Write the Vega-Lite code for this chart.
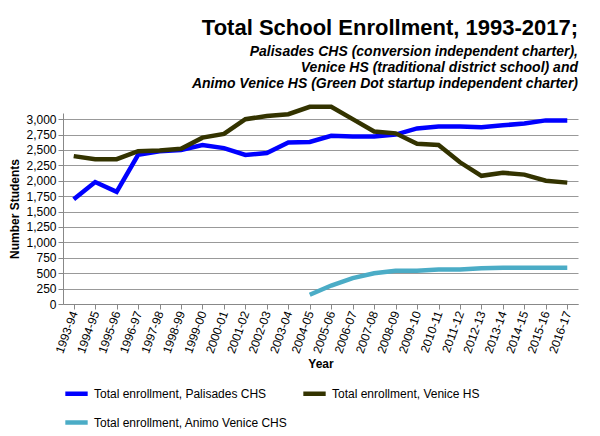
{
  "$schema": "https://vega.github.io/schema/vega-lite/v6.json",
  "width": 600,
  "height": 436,
  "autosize": {"type": "fit", "contains": "padding"},
  "padding": {"left": 8, "right": 22, "top": 8, "bottom": 4},
  "config": {"font": "Liberation Sans", "view": {"stroke": null}},
  "title": {
    "text": "Total School Enrollment, 1993-2017;",
    "subtitle": ["Palisades CHS (conversion independent charter),", "Venice HS (traditional district school) and", "Animo Venice HS (Green Dot startup independent charter)"],
    "anchor": "end",
    "fontSize": 22,
    "fontWeight": "bold",
    "color": "#000",
    "subtitleFontSize": 14,
    "subtitleFontStyle": "italic",
    "subtitleFontWeight": "bold",
    "subtitleColor": "#000",
    "subtitlePadding": 5,
    "offset": 6
  },
  "data": {
    "values": [
      {"year": "1993-94", "s": "Total enrollment, Palisades CHS", "v": 1700},
      {"year": "1994-95", "s": "Total enrollment, Palisades CHS", "v": 1980},
      {"year": "1995-96", "s": "Total enrollment, Palisades CHS", "v": 1820},
      {"year": "1996-97", "s": "Total enrollment, Palisades CHS", "v": 2420},
      {"year": "1997-98", "s": "Total enrollment, Palisades CHS", "v": 2480},
      {"year": "1998-99", "s": "Total enrollment, Palisades CHS", "v": 2500},
      {"year": "1999-00", "s": "Total enrollment, Palisades CHS", "v": 2580},
      {"year": "2000-01", "s": "Total enrollment, Palisades CHS", "v": 2530},
      {"year": "2001-02", "s": "Total enrollment, Palisades CHS", "v": 2420},
      {"year": "2002-03", "s": "Total enrollment, Palisades CHS", "v": 2450},
      {"year": "2003-04", "s": "Total enrollment, Palisades CHS", "v": 2620},
      {"year": "2004-05", "s": "Total enrollment, Palisades CHS", "v": 2630},
      {"year": "2005-06", "s": "Total enrollment, Palisades CHS", "v": 2730},
      {"year": "2006-07", "s": "Total enrollment, Palisades CHS", "v": 2720},
      {"year": "2007-08", "s": "Total enrollment, Palisades CHS", "v": 2720},
      {"year": "2008-09", "s": "Total enrollment, Palisades CHS", "v": 2750},
      {"year": "2009-10", "s": "Total enrollment, Palisades CHS", "v": 2850},
      {"year": "2010-11", "s": "Total enrollment, Palisades CHS", "v": 2880},
      {"year": "2011-12", "s": "Total enrollment, Palisades CHS", "v": 2880},
      {"year": "2012-13", "s": "Total enrollment, Palisades CHS", "v": 2870},
      {"year": "2013-14", "s": "Total enrollment, Palisades CHS", "v": 2900},
      {"year": "2014-15", "s": "Total enrollment, Palisades CHS", "v": 2930},
      {"year": "2015-16", "s": "Total enrollment, Palisades CHS", "v": 2980},
      {"year": "2016-17", "s": "Total enrollment, Palisades CHS", "v": 2980},
      {"year": "1993-94", "s": "Total enrollment, Venice HS", "v": 2400},
      {"year": "1994-95", "s": "Total enrollment, Venice HS", "v": 2350},
      {"year": "1995-96", "s": "Total enrollment, Venice HS", "v": 2350},
      {"year": "1996-97", "s": "Total enrollment, Venice HS", "v": 2480},
      {"year": "1997-98", "s": "Total enrollment, Venice HS", "v": 2490},
      {"year": "1998-99", "s": "Total enrollment, Venice HS", "v": 2520},
      {"year": "1999-00", "s": "Total enrollment, Venice HS", "v": 2700},
      {"year": "2000-01", "s": "Total enrollment, Venice HS", "v": 2760},
      {"year": "2001-02", "s": "Total enrollment, Venice HS", "v": 3000},
      {"year": "2002-03", "s": "Total enrollment, Venice HS", "v": 3050},
      {"year": "2003-04", "s": "Total enrollment, Venice HS", "v": 3080},
      {"year": "2004-05", "s": "Total enrollment, Venice HS", "v": 3200},
      {"year": "2005-06", "s": "Total enrollment, Venice HS", "v": 3200},
      {"year": "2006-07", "s": "Total enrollment, Venice HS", "v": 3000},
      {"year": "2007-08", "s": "Total enrollment, Venice HS", "v": 2800},
      {"year": "2008-09", "s": "Total enrollment, Venice HS", "v": 2770},
      {"year": "2009-10", "s": "Total enrollment, Venice HS", "v": 2600},
      {"year": "2010-11", "s": "Total enrollment, Venice HS", "v": 2580},
      {"year": "2011-12", "s": "Total enrollment, Venice HS", "v": 2300},
      {"year": "2012-13", "s": "Total enrollment, Venice HS", "v": 2080},
      {"year": "2013-14", "s": "Total enrollment, Venice HS", "v": 2130},
      {"year": "2014-15", "s": "Total enrollment, Venice HS", "v": 2100},
      {"year": "2015-16", "s": "Total enrollment, Venice HS", "v": 2000},
      {"year": "2016-17", "s": "Total enrollment, Venice HS", "v": 1970},
      {"year": "2004-05", "s": "Total enrollment, Animo Venice CHS", "v": 150},
      {"year": "2005-06", "s": "Total enrollment, Animo Venice CHS", "v": 300},
      {"year": "2006-07", "s": "Total enrollment, Animo Venice CHS", "v": 420},
      {"year": "2007-08", "s": "Total enrollment, Animo Venice CHS", "v": 500},
      {"year": "2008-09", "s": "Total enrollment, Animo Venice CHS", "v": 540},
      {"year": "2009-10", "s": "Total enrollment, Animo Venice CHS", "v": 540},
      {"year": "2010-11", "s": "Total enrollment, Animo Venice CHS", "v": 560},
      {"year": "2011-12", "s": "Total enrollment, Animo Venice CHS", "v": 560},
      {"year": "2012-13", "s": "Total enrollment, Animo Venice CHS", "v": 580},
      {"year": "2013-14", "s": "Total enrollment, Animo Venice CHS", "v": 590},
      {"year": "2014-15", "s": "Total enrollment, Animo Venice CHS", "v": 590},
      {"year": "2015-16", "s": "Total enrollment, Animo Venice CHS", "v": 590},
      {"year": "2016-17", "s": "Total enrollment, Animo Venice CHS", "v": 590}
    ]
  },
  "mark": {"type": "line", "strokeWidth": 4.5},
  "encoding": {
    "x": {
      "field": "year", "type": "ordinal", "title": "Year",
      "scale": {"paddingOuter": 0.2},
      "axis": {"labelAngle": -70, "labelFontSize": 12, "labelColor": "#000", "titleFontSize": 12, "titleFontWeight": "bold", "titleColor": "#000", "domainColor": "#888", "tickColor": "#888"}
    },
    "y": {
      "field": "v", "type": "quantitative", "title": "Number Students",
      "scale": {"domain": [0, 3100], "nice": false},
      "axis": {"values": [0, 250, 500, 750, 1000, 1250, 1500, 1750, 2000, 2250, 2500, 2750, 3000], "format": ",.0f", "labelFontSize": 12, "labelColor": "#000", "titleFontSize": 12, "titleFontWeight": "bold", "titleColor": "#000", "gridColor": "#999", "domainColor": "#888", "tickColor": "#888"}
    },
    "color": {
      "field": "s", "type": "nominal", "title": null,
      "scale": {"domain": ["Total enrollment, Palisades CHS", "Total enrollment, Venice HS", "Total enrollment, Animo Venice CHS"], "range": ["#0000ff", "#333300", "#4bacc6"]},
      "legend": {"orient": "bottom", "columns": 2, "symbolType": "stroke", "symbolStrokeWidth": 4.5, "symbolSize": 500, "labelFontSize": 12, "labelColor": "#000", "labelLimit": 300, "columnPadding": 6, "rowPadding": 6, "offset": 10}
    }
  }
}
